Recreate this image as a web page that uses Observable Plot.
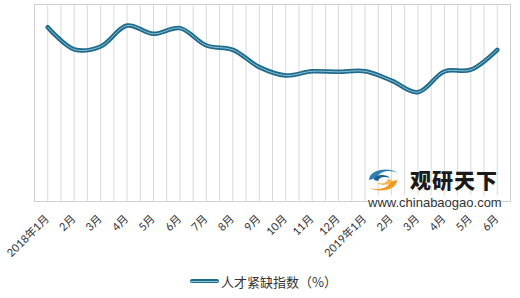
<!DOCTYPE html>
<html>
<head>
<meta charset="utf-8">
<script src="https://cdn.jsdelivr.net/npm/d3@7"></script>
<script src="https://cdn.jsdelivr.net/npm/@observablehq/plot@0.6"></script>
<style>
  html, body { margin: 0; padding: 0; background: #fff; }
  #wrap { position: relative; width: 520px; height: 298px; overflow: hidden; font-family: Lato, "Noto Sans CJK SC", sans-serif; }
  #legend { position: absolute; left: 0; top: 270px; width: 520px; height: 22px; }
  #legend .sw { position: absolute; left: 190px; top: 9px; width: 29px; height: 4px; background: #1f6b8c; border-radius: 2px; }
  #legend .sw::after { content: ""; position: absolute; left: 1px; right: 1px; top: 1.5px; height: 1px; background: #8fc3d8; }
  #legend .tx { position: absolute; left: 221px; top: 2px; font-size: 13px; color: #333; font-family: "Noto Sans CJK SC", sans-serif; }
  #wm { position: absolute; left: 366px; top: 166px; width: 150px; height: 46px; pointer-events: none; }
  #wm .cn { position: absolute; left: 44px; top: -2px; font-size: 21px; font-weight: 900; color: #1a1a1a; letter-spacing: 1px; font-family: "Noto Sans CJK SC", sans-serif; }
  #wm .url { position: absolute; left: 2px; top: 29px; font-size: 13px; color: #333; font-family: "Liberation Sans", Arial, sans-serif; background: rgba(255,255,255,0.85); }
  #wm svg.logo { position: absolute; left: 1px; top: 1px; }
</style>
</head>
<body>
<div id="wrap">
  <div id="chart"></div>
  <div id="wm">
    <svg class="logo" width="32" height="26" viewBox="0 0 32 26">
      <path d="M2 13 C2 3, 21 -1, 31 6 C23 2, 12 4, 10 11 Z" fill="#2b7fb3"/>
      <path d="M7 13 C8 8, 18 6, 23 11 C17 9, 12 10, 11 14 Z" fill="#1d5f8c"/>
      <path d="M30 13 C30 23, 12 27, 1 20 C9 24, 21 22, 23 15 Z" fill="#f39a1e"/>
      <path d="M25 13 C24 18, 14 20, 9 15 C15 18, 20 16, 21 12 Z" fill="#f7b84a"/>
    </svg>
    <div class="cn">观研天下</div>
    <div class="url">www.chinabaogao.com</div>
  </div>
  <div id="legend"><div class="sw"></div><div class="tx">人才紧缺指数（%）</div></div>
</div>
<script>
const months = ["2018年1月","2月","3月","4月","5月","6月","7月","8月","9月","10月","11月","12月","2019年1月","2月","3月","4月","5月","6月"];
const values = [88.5, 77.2, 78.7, 89.3, 85.1, 88.0, 79.2, 77.0, 68.2, 64.0, 66.1, 65.8, 66.1, 61.4, 55.5, 66.0, 66.9, 77.0];
const seriesName = "人才紧缺指数（%）";

const data = months.map((m, i) => ({i, m, v: values[i]}));
const gridX = d3.range(-0.5, months.length, 0.5);

const chart = Plot.plot({
  width: 520,
  height: 268,
  marginTop: 4,
  marginBottom: 67,
  marginLeft: 34,
  marginRight: 10,
  style: {fontFamily: 'Lato, "Noto Sans CJK SC", sans-serif', fontSize: "11px", color: "#333", background: "transparent", overflow: "visible"},
  x: {type: "linear", domain: [-0.5, months.length - 0.5], axis: null},
  y: {domain: [0, 100], axis: null},
  marks: [
    Plot.ruleX(gridX, {stroke: "#d9d9d9", strokeWidth: 1}),
    Plot.frame({stroke: "#d0d0d0"}),
    Plot.line(data, {x: "i", y: "v", curve: "catmull-rom", stroke: "#1f6b8c", strokeWidth: 4.5, strokeLinecap: "round", strokeLinejoin: "round"}),
    Plot.line(data, {x: "i", y: "v", curve: "catmull-rom", stroke: "#8fc3d8", strokeWidth: 1}),
    Plot.text(data, {x: "i", frameAnchor: "bottom", text: "m", rotate: -45, textAnchor: "end", dy: 18, dx: 2, fill: "#333", fontSize: 11})
  ]
});
document.getElementById("chart").appendChild(chart);
</script>
</body>
</html>
